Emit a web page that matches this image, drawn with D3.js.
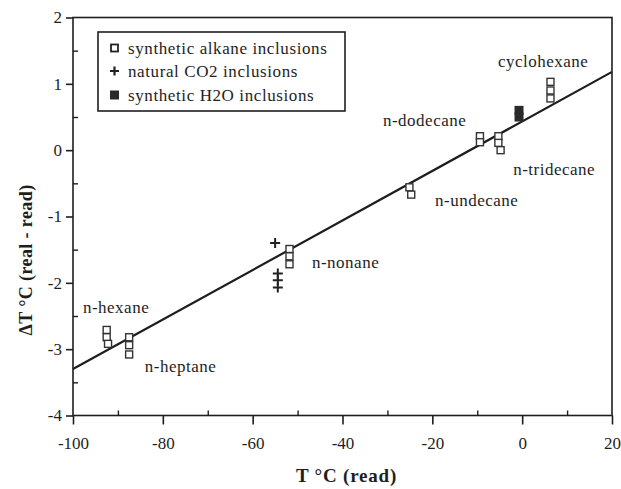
<!DOCTYPE html>
<html>
<head>
<meta charset="utf-8">
<script src="https://cdn.jsdelivr.net/npm/d3@7/dist/d3.min.js"></script>
<style>
  body { margin: 0; background: #fff; }
  svg { display: block; }
  svg text { font-family: "Liberation Serif", "Times New Roman", serif; fill: #1e1e1e; }
</style>
</head>
<body>
<svg id="chart" width="621" height="489"></svg>
<script>
// ---------- data ----------
const xTicks = [-100, -80, -60, -40, -20, 0, 20];
const yTicks = [-4, -3, -2, -1, 0, 1, 2];

// synthetic alkane inclusions
const alkaneT  = [-92.5, -92.5, -92.2, -87.5, -87.5, -87.5, -51.8, -51.8, -51.8, -25.1, -24.7, -9.4, -9.4, -5.3, -5.3, -4.8, 6.3, 6.3, 6.3];
const alkaneDT = [-2.71, -2.82, -2.92, -2.82, -2.94, -3.08, -1.49, -1.60, -1.72, -0.56, -0.67, 0.21, 0.12, 0.21, 0.11, 0.00, 1.03, 0.90, 0.78];

// natural CO2 inclusions
const co2T  = [-55.0, -54.4, -54.4, -54.4];
const co2DT = [-1.40, -1.86, -1.96, -2.07];

// synthetic H2O inclusions
const h2oT  = [-0.7, -0.7];
const h2oDT = [0.60, 0.50];

// regression line
const lineT  = [-100, 20];
const lineDT = [-3.30, 1.18];

// compound labels (anchor in data units)
const labelText = ["n-hexane", "n-heptane", "n-nonane", "n-undecane", "n-dodecane", "n-tridecane", "cyclohexane"];
const labelT    = [-97.8, -84.0, -46.8, -19.4, -31.0, -2.0, -5.4];
const labelDT   = [-2.45, -3.34, -1.78, -0.84, 0.36, -0.37, 1.25];

const legendLabels = ["synthetic alkane inclusions", "natural CO2 inclusions", "synthetic H2O inclusions"];

// ---------- drawing ----------
const FONT = "'Liberation Serif', 'Times New Roman', serif";
const svg = d3.select("#chart");
const ink = "#1e1e1e";
const L = 73, R = 612, T = 17.5, B = 415.5;

const x = d3.scaleLinear().domain([-100, 20]).range([L, R]);
const y = d3.scaleLinear().domain([-4, 2]).range([B, T]);
const fmt = d => String(d);

// frame
svg.append("rect").attr("x", L).attr("y", T).attr("width", R - L).attr("height", B - T)
  .attr("fill", "none").attr("stroke", ink).attr("stroke-width", 1.6);

// bottom axis
const xAxis = svg.append("g").attr("transform", `translate(0,${B})`)
  .call(d3.axisBottom(x).tickValues(xTicks).tickSize(9).tickFormat(fmt));
xAxis.attr("font-family", null).attr("font-size", null);
xAxis.select(".domain").remove();
xAxis.selectAll("line").attr("stroke", ink).attr("stroke-width", 1.6);
xAxis.selectAll("text").attr("dy", null).attr("y", 33).style("font-size", "17px")
  .style("font-family", FONT).attr("fill", ink);
// minor inward ticks
svg.append("g").attr("transform", `translate(0,${B})`)
  .call(d3.axisTop(x).tickValues(d3.range(-90, 20, 20)).tickSize(5).tickFormat(""))
  .call(g => g.select(".domain").remove())
  .selectAll("line").attr("stroke", ink).attr("stroke-width", 1.4);

// left axis
const yAxis = svg.append("g").attr("transform", `translate(${L},0)`)
  .call(d3.axisLeft(y).tickValues(yTicks).tickSize(7).tickFormat(fmt));
yAxis.attr("font-family", null).attr("font-size", null);
yAxis.select(".domain").remove();
yAxis.selectAll("line").attr("stroke", ink).attr("stroke-width", 1.6);
yAxis.selectAll("text").attr("x", -11).style("font-size", "17px")
  .style("font-family", FONT).attr("fill", ink);
svg.append("g").attr("transform", `translate(${L},0)`)
  .call(d3.axisRight(y).tickValues(d3.range(-3.5, 2, 1)).tickSize(5).tickFormat(""))
  .call(g => g.select(".domain").remove())
  .selectAll("line").attr("stroke", ink).attr("stroke-width", 1.4);

// axis titles
svg.append("text").attr("x", (L + R) / 2 + 4).attr("y", 482)
  .attr("text-anchor", "middle").style("font-family", FONT).style("font-size", "19px").style("font-weight", "bold")
  .style("letter-spacing", "0.8px").text("T °C (read)");
svg.append("text").attr("transform", `translate(32,260) rotate(-90)`)
  .attr("text-anchor", "middle").style("font-family", FONT).style("font-size", "18px").style("font-weight", "bold")
  .style("letter-spacing", "0.4px").text("ΔT °C (real - read)");

// regression line
const lineData = lineT.map((t, i) => [t, lineDT[i]]);
svg.append("path").datum(lineData)
  .attr("d", d3.line().x(d => x(d[0])).y(d => y(d[1])))
  .attr("fill", "none").attr("stroke", ink).attr("stroke-width", 2.2);

// alkane squares
const sq = 7;
svg.append("g").selectAll("rect").data(alkaneT.map((t, i) => [t, alkaneDT[i]])).join("rect")
  .attr("x", d => x(d[0]) - sq / 2).attr("y", d => y(d[1]) - sq / 2)
  .attr("width", sq).attr("height", sq)
  .attr("fill", "#fff").attr("stroke", "#333").attr("stroke-width", 1.4);

// H2O filled squares
svg.append("g").selectAll("rect").data(h2oT.map((t, i) => [t, h2oDT[i]])).join("rect")
  .attr("x", d => x(d[0]) - 4.5).attr("y", d => y(d[1]) - 4.5)
  .attr("width", 9).attr("height", 9).attr("fill", "#2a2a2a");

// CO2 plus signs
svg.append("g").selectAll("path").data(co2T.map((t, i) => [t, co2DT[i]])).join("path")
  .attr("transform", d => `translate(${x(d[0])},${y(d[1])})`)
  .attr("d", "M-5,0H5M0,-5V5").attr("stroke", "#222").attr("stroke-width", 2).attr("fill", "none");

// compound labels
svg.append("g").selectAll("text").data(labelText).join("text")
  .attr("x", (d, i) => x(labelT[i])).attr("y", (d, i) => y(labelDT[i]))
  .style("font-family", FONT).style("font-size", "17px").style("letter-spacing", "0.5px").text(d => d);

// legend
svg.append("rect").attr("x", 98).attr("y", 32).attr("width", 247).attr("height", 79)
  .attr("fill", "#fff").attr("stroke", ink).attr("stroke-width", 1.6);
const rowY = [48, 71, 95];
svg.append("rect").attr("x", 111).attr("y", rowY[0] - 3.5).attr("width", 7).attr("height", 7)
  .attr("fill", "#fff").attr("stroke", "#222").attr("stroke-width", 1.8);
svg.append("path").attr("transform", `translate(114.5,${rowY[1]})`)
  .attr("d", "M-4.5,0H4.5M0,-4.5V4.5").attr("stroke", "#222").attr("stroke-width", 2.2);
svg.append("rect").attr("x", 110).attr("y", rowY[2] - 4.5).attr("width", 9).attr("height", 9)
  .attr("fill", "#2a2a2a");
svg.append("g").selectAll("text").data(legendLabels).join("text")
  .attr("x", 128).attr("y", (d, i) => rowY[i] + 5.5)
  .style("font-family", FONT).style("font-size", "17px").style("letter-spacing", "0.6px").text(d => d);
</script>
</body>
</html>
